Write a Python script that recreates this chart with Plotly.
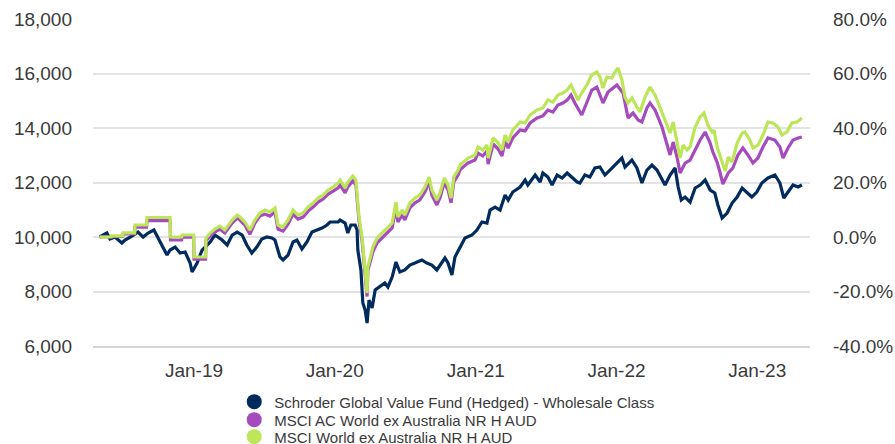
import plotly.graph_objects as go

# ---------------- data ----------------
fund_name = "Schroder Global Value Fund (Hedged) - Wholesale Class"
acwi_name = "MSCI AC World ex Australia NR H AUD"
world_name = "MSCI World ex Australia NR H AUD"

fund_dates = [
    "2018-05-01", "2018-05-20", "2018-05-28", "2018-06-10", "2018-06-28", "2018-07-06", "2018-07-24",
    "2018-08-09", "2018-08-22", "2018-09-04", "2018-09-19", "2018-09-30", "2018-10-10", "2018-10-23",
    "2018-10-31", "2018-11-13", "2018-11-26", "2018-12-09", "2018-12-22", "2018-12-27",
    "2019-01-09", "2019-01-22", "2019-02-04", "2019-02-12", "2019-02-24", "2019-03-15", "2019-03-28",
    "2019-04-10", "2019-04-23", "2019-05-06", "2019-05-18", "2019-05-31", "2019-06-13", "2019-06-26",
    "2019-07-09", "2019-07-22", "2019-07-30", "2019-08-12", "2019-08-20", "2019-09-02", "2019-09-15",
    "2019-09-25", "2019-10-08", "2019-10-21", "2019-11-03", "2019-11-16", "2019-11-29", "2019-12-12",
    "2019-12-20",
    "2020-01-10", "2020-01-15", "2020-01-28", "2020-02-04", "2020-02-12", "2020-02-23", "2020-02-28",
    "2020-03-01", "2020-03-09", "2020-03-14", "2020-03-20", "2020-03-25", "2020-03-30", "2020-04-07",
    "2020-04-15", "2020-04-27", "2020-05-10", "2020-05-18", "2020-05-29", "2020-06-08", "2020-06-18",
    "2020-07-01", "2020-07-14", "2020-07-27", "2020-08-14", "2020-08-27", "2020-09-09", "2020-09-22",
    "2020-10-05", "2020-10-13", "2020-10-21", "2020-10-31", "2020-11-08", "2020-11-21", "2020-12-04",
    "2020-12-22",
    "2021-01-04", "2021-01-17", "2021-01-30", "2021-02-07", "2021-02-20", "2021-03-05", "2021-03-18",
    "2021-03-26", "2021-04-07", "2021-04-26", "2021-05-09", "2021-05-16", "2021-06-04", "2021-06-17",
    "2021-06-24", "2021-07-07", "2021-07-18", "2021-07-31", "2021-08-13", "2021-08-26", "2021-09-08",
    "2021-09-21", "2021-09-28", "2021-10-11", "2021-10-24", "2021-11-06", "2021-11-19", "2021-12-02",
    "2021-12-15", "2021-12-28",
    "2022-01-15", "2022-01-23", "2022-02-10", "2022-02-23", "2022-03-08", "2022-03-21", "2022-04-03",
    "2022-04-16", "2022-04-26", "2022-05-07", "2022-05-20", "2022-06-02", "2022-06-10", "2022-06-18",
    "2022-06-28", "2022-07-11", "2022-07-24", "2022-08-06", "2022-08-19", "2022-09-01", "2022-09-13",
    "2022-09-21", "2022-10-02", "2022-10-15", "2022-10-28", "2022-11-10", "2022-11-23", "2022-12-05",
    "2022-12-18", "2022-12-31",
    "2023-01-13", "2023-01-29", "2023-02-16", "2023-03-01", "2023-03-11", "2023-03-22", "2023-04-04",
    "2023-04-17", "2023-04-27",
]
fund_values = [
    10000, 10146, 9926, 9999, 9779, 9889, 10036, 10183, 9999, 10146, 10256, 9963, 9706, 9339,
    9522, 9632, 9412, 9449, 9045, 8715,
    9045, 9522, 9706, 9816, 10073, 9889, 9706, 10073, 10183, 10073, 9706, 9412, 9632, 9926,
    9999, 9963, 9889, 9266, 9156, 9339, 9816, 9889, 9559, 9816, 10183, 10256, 10330, 10440, 10550,
    10550, 10623, 10513, 10146, 10440, 10440, 10256, 9522, 8789, 7577, 7320, 6843, 7687, 7394,
    8055, 8165, 8311, 8165, 8531, 9082, 8715, 8789, 8972, 9045, 9156, 9045, 8972, 8789,
    9045, 9229, 9045, 8605, 9266, 9632, 9963, 10073,
    10256, 10550, 10513, 10990, 11100, 10990, 11541, 11357, 11651, 11834, 12091, 11908, 12275, 12018,
    12348, 12201, 11908, 12275, 12165, 12348, 12201, 12018, 11981, 12275, 12201, 12532, 12568, 12275,
    12458, 12642,
    12899, 12568, 12825, 12532, 11981, 12458, 12642, 12458, 12201, 11908, 12275, 12532, 11834, 11357,
    11467, 11284, 11798, 11908, 12091, 11724, 11614, 11174, 10697, 10880, 11247, 11467, 11798, 11651,
    11467, 11651,
    11981, 12165, 12275, 11981, 11431, 11651, 11908, 11834, 11908,
]

world_dates = [
    "2018-05-01", "2018-05-31", "2018-06-01", "2018-06-30", "2018-07-01", "2018-07-31", "2018-08-01",
    "2018-08-31", "2018-09-01", "2018-10-31", "2018-11-01", "2018-11-30", "2018-12-01", "2018-12-31",
    "2019-01-01", "2019-01-31", "2019-02-01",
    "2019-02-12", "2019-02-24", "2019-03-09", "2019-03-22", "2019-04-10", "2019-04-23", "2019-04-30",
    "2019-05-13", "2019-05-26", "2019-06-08", "2019-06-21", "2019-07-04", "2019-07-17", "2019-07-30",
    "2019-08-07", "2019-08-20", "2019-09-02", "2019-09-15", "2019-09-28", "2019-10-11", "2019-10-24",
    "2019-11-06", "2019-11-19", "2019-12-02", "2019-12-15", "2019-12-28",
    "2020-01-10", "2020-01-15", "2020-01-28", "2020-02-04", "2020-02-17", "2020-02-25", "2020-03-01",
    "2020-03-04", "2020-03-12", "2020-03-17", "2020-03-25", "2020-03-27", "2020-04-04", "2020-04-09",
    "2020-04-20", "2020-05-03", "2020-05-16", "2020-05-29", "2020-06-08", "2020-06-13", "2020-06-24",
    "2020-07-01", "2020-07-14", "2020-07-27", "2020-08-09", "2020-08-22", "2020-09-02", "2020-09-09",
    "2020-09-22", "2020-09-30", "2020-10-11", "2020-10-21", "2020-10-29", "2020-11-05", "2020-11-16",
    "2020-11-21", "2020-12-12", "2020-12-30",
    "2021-01-07", "2021-01-19", "2021-01-30", "2021-02-02", "2021-02-15", "2021-02-28", "2021-03-10",
    "2021-03-18", "2021-03-26", "2021-04-07", "2021-04-26", "2021-05-09", "2021-05-22", "2021-06-09",
    "2021-06-24", "2021-07-07", "2021-07-20", "2021-08-02", "2021-08-15", "2021-08-26", "2021-09-05",
    "2021-09-15", "2021-09-23", "2021-10-03", "2021-10-16", "2021-10-29", "2021-11-11", "2021-11-19",
    "2021-11-27", "2021-12-07", "2021-12-20", "2021-12-28",
    "2022-01-05", "2022-01-15", "2022-01-23", "2022-01-31", "2022-02-10", "2022-02-23", "2022-03-03",
    "2022-03-16", "2022-03-29", "2022-04-11", "2022-04-24", "2022-05-07", "2022-05-20", "2022-05-28",
    "2022-06-07", "2022-06-15", "2022-06-23", "2022-07-03", "2022-07-11", "2022-07-24", "2022-08-06",
    "2022-08-16", "2022-08-26", "2022-09-06", "2022-09-11", "2022-09-19", "2022-10-02", "2022-10-10",
    "2022-10-18", "2022-10-28", "2022-11-10", "2022-11-23", "2022-11-30", "2022-12-13", "2022-12-21",
    "2023-01-03", "2023-01-16", "2023-01-29", "2023-02-11", "2023-02-24", "2023-03-06", "2023-03-19",
    "2023-04-01", "2023-04-14", "2023-04-27",
]
world_values = [
    10000, 10000, 10040, 10040, 10150, 10150, 10440,
    10440, 10715, 10715, 10000, 10000, 10073, 10073,
    9266, 9266, 9950,
    10146, 10290, 10400, 10256, 10623, 10807, 10733,
    10550, 10256, 10623, 10880, 10990, 10917, 11063,
    10440, 10366, 10623, 10990, 10807, 10880, 11100,
    11247, 11431, 11541, 11724, 11834,
    11981, 12091, 11798, 12018, 12238, 12091, 11247,
    10733, 9999, 9266, 7944, 8898, 9412, 9632,
    9963, 10146, 10366, 10513, 11284, 10733, 10990,
    10807, 11247, 11431, 11541, 11834, 12201, 11724,
    11357, 11614, 12165, 11908, 11431, 12201, 12458,
    12642, 12899, 13009,
    13302, 13192, 13376, 12899, 13633, 13449, 13192,
    13743, 13486, 13926, 14220, 14183, 14477, 14660,
    14734, 15027, 14954, 15211, 15284, 15394, 15578,
    15284, 15027, 15284, 15578, 15945, 16055, 15871,
    15468, 15871, 15835, 16055,
    16200, 15761, 15137, 14917, 15101, 14770, 14587,
    15137, 15504, 15211, 14734, 14220, 13816, 14220,
    13559, 12900, 13376, 13192, 13302, 14036, 14403,
    14550, 14110, 13853, 13926, 13302, 12752, 12420,
    12935, 12752, 13449, 13816, 13853, 13559, 13266,
    13376, 13743, 14220, 14183, 14036, 13743, 13853,
    14183, 14220, 14367,
]

acwi_dates = [
    "2018-05-01", "2018-05-31", "2018-06-01", "2018-06-30", "2018-07-01", "2018-07-31", "2018-08-01",
    "2018-08-31", "2018-09-01", "2018-10-31", "2018-11-01", "2018-11-30", "2018-12-01", "2018-12-31",
    "2019-01-01", "2019-01-31", "2019-02-01",
    "2019-02-12", "2019-02-24", "2019-03-09", "2019-03-22", "2019-04-10", "2019-04-23", "2019-04-30",
    "2019-05-13", "2019-05-26", "2019-06-08", "2019-06-21", "2019-07-04", "2019-07-17", "2019-07-30",
    "2019-08-07", "2019-08-20", "2019-09-02", "2019-09-15", "2019-09-28", "2019-10-11", "2019-10-24",
    "2019-11-06", "2019-11-19", "2019-12-02", "2019-12-15", "2019-12-28",
    "2020-01-10", "2020-01-15", "2020-01-28", "2020-02-04", "2020-02-17", "2020-02-25", "2020-03-01",
    "2020-03-04", "2020-03-12", "2020-03-17", "2020-03-25", "2020-03-27", "2020-04-04", "2020-04-09",
    "2020-04-20", "2020-05-03", "2020-05-16", "2020-05-29", "2020-06-08", "2020-06-13", "2020-06-24",
    "2020-07-01", "2020-07-14", "2020-07-27", "2020-08-09", "2020-08-22", "2020-09-02", "2020-09-09",
    "2020-09-22", "2020-09-30", "2020-10-11", "2020-10-21", "2020-10-29", "2020-11-05", "2020-11-16",
    "2020-11-21", "2020-12-12", "2020-12-30",
    "2021-01-07", "2021-01-19", "2021-01-30", "2021-02-02", "2021-02-15", "2021-02-28", "2021-03-10",
    "2021-03-18", "2021-03-26", "2021-04-07", "2021-04-26", "2021-05-09", "2021-05-22", "2021-06-09",
    "2021-06-24", "2021-07-07", "2021-07-20", "2021-08-02", "2021-08-15", "2021-08-26", "2021-09-05",
    "2021-09-15", "2021-10-03", "2021-10-16", "2021-10-29", "2021-11-11", "2021-11-27", "2021-12-10",
    "2022-01-02", "2022-01-18", "2022-01-31", "2022-02-13", "2022-02-26", "2022-03-08", "2022-03-21",
    "2022-03-29", "2022-04-11", "2022-04-29", "2022-05-12", "2022-05-20", "2022-05-28", "2022-06-07",
    "2022-06-15", "2022-06-28", "2022-07-11", "2022-07-24", "2022-08-06", "2022-08-19", "2022-09-01",
    "2022-09-08", "2022-09-19", "2022-09-27", "2022-10-04", "2022-10-18", "2022-10-30", "2022-11-12",
    "2022-11-25", "2022-12-08", "2022-12-21",
    "2023-01-03", "2023-01-16", "2023-01-29", "2023-02-16", "2023-03-01", "2023-03-09", "2023-03-22",
    "2023-04-04", "2023-04-17", "2023-04-27",
]
acwi_values = [
    10000, 10000, 10020, 10020, 10110, 10110, 10366,
    10366, 10600, 10600, 9890, 9890, 9990, 9990,
    9190, 9190, 9860,
    10036, 10180, 10290, 10146, 10513, 10697, 10623,
    10440, 10100, 10513, 10770, 10840, 10767, 10913,
    10290, 10216, 10473, 10840, 10657, 10730, 10950,
    11097, 11281, 11391, 11574, 11684,
    11801, 11911, 11618, 11838, 12058, 11911, 11117,
    10603, 9869, 9136, 7814, 8768, 9232, 9452,
    9783, 9966, 10186, 10333, 11104, 10553, 10810,
    10627, 11067, 11251, 11361, 11654, 12021, 11544,
    11177, 11434, 11985, 11728, 11251, 12021, 12278,
    12462, 12719, 12829,
    13082, 12972, 13156, 12679, 13413, 13229, 12972,
    13523, 13266, 13636, 13930, 13893, 14187, 14370,
    14444, 14657, 14584, 14841, 14914, 15024, 15208,
    14917, 14477, 14954, 15394, 15504, 14917, 15321,
    15578, 15284, 14367, 14550, 14293, 14220, 14734,
    14917, 14660, 14036, 13449, 13009, 13486, 12935,
    12348, 12715, 12825, 13192, 13559, 13853, 13449,
    13119, 12752, 12348, 11945, 12348, 12532, 13009,
    13266, 13009, 12715,
    12899, 13302, 13633, 13559, 13302, 12899, 13266,
    13559, 13633, 13669,
]

left_ticks = [6000, 8000, 10000, 12000, 14000, 16000, 18000]
right_ticks = [-40, -20, 0, 20, 40, 60, 80]
right_tick_labels = ["-40.0%", "-20.0%", "0.0%", "20.0%", "40.0%", "60.0%", "80.0%"]
x_ticks = ["2019-01-01", "2020-01-01", "2021-01-01", "2022-01-01", "2023-01-01"]

NAVY = "#012b5d"
PURPLE = "#a64bbd"
LIME = "#bce657"
TXT = "#3a3a3a"
FONT = "Liberation Sans, Arial, sans-serif"

fig = go.Figure()
fig.add_trace(go.Scatter(x=fund_dates, y=fund_values, mode="lines", line=dict(color=NAVY, width=3.2),
                         showlegend=False, name=fund_name))
fig.add_trace(go.Scatter(x=acwi_dates, y=acwi_values, mode="lines", line=dict(color=PURPLE, width=3.2),
                         showlegend=False, name=acwi_name))
fig.add_trace(go.Scatter(x=world_dates, y=world_values, mode="lines", line=dict(color=LIME, width=3.2),
                         showlegend=False, name=world_name))

# legend-only entries with round symbols
for nm, col, lg in [(fund_name, NAVY, "legend"), (acwi_name, PURPLE, "legend2"), (world_name, LIME, "legend3")]:
    fig.add_trace(go.Scatter(x=[None], y=[None], mode="markers", name=nm,
                             marker=dict(color=col, size=15), legend=lg, showlegend=True))

# invisible trace to activate right axis
fig.add_trace(go.Scatter(x=[None], y=[None], yaxis="y2", showlegend=False, hoverinfo="skip"))

leg_common = dict(x=0.197, xanchor="left", yanchor="middle", bgcolor="rgba(0,0,0,0)",
                  font=dict(family=FONT, size=15, color=TXT), itemsizing="trace")

fig.update_layout(
    width=895, height=444,
    margin=dict(l=93, r=85, t=19, b=98, autoexpand=False),
    paper_bgcolor="white", plot_bgcolor="white",
    font=dict(family=FONT, color=TXT),
    xaxis=dict(range=["2018-04-14", "2023-05-18"], tickvals=x_ticks, tickformat="%b-%y",
               showgrid=False, zeroline=False, showline=True, linecolor="#d6d6d6", linewidth=2,
               ticks="", tickfont=dict(size=19, color=TXT), ticklabelstandoff=6),
    yaxis=dict(range=[6000, 18000], tickvals=left_ticks, tickformat=",", showgrid=True,
               gridcolor="#e3e3e3", gridwidth=2, zeroline=False, ticks="",
               tickfont=dict(size=19, color=TXT), ticklabelstandoff=20),
    yaxis2=dict(range=[-40, 80], tickvals=right_ticks, ticktext=right_tick_labels,
                overlaying="y", side="right", showgrid=False, zeroline=False, ticks="",
                tickfont=dict(size=19, color=TXT), ticklabelstandoff=22),
    legend=dict(y=-0.171, **leg_common),
    legend2=dict(y=-0.226, **leg_common),
    legend3=dict(y=-0.278, **leg_common),
)

fig.write_html("out.html", config={"displayModeBar": False},
               post_script="document.body.style.margin='0';document.body.style.overflow='hidden';")
